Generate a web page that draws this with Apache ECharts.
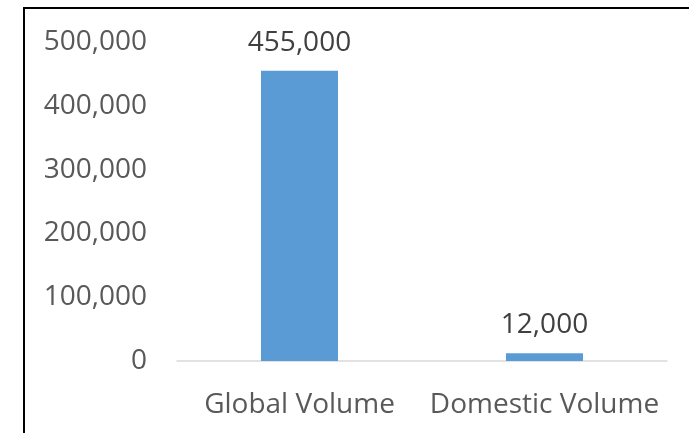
<!DOCTYPE html>
<html>
<head>
<meta charset="utf-8">
<script src="https://cdn.jsdelivr.net/npm/echarts@6/dist/echarts.min.js"></script>
<style>
html,body{margin:0;padding:0;background:#fff;}
#c{width:689px;height:433px;}
</style>
</head>
<body>
<div id="c"></div>
<script>
const categories = ['Global Volume', 'Domestic Volume'];
const volumes = [455000, 12000];
const yTicks = { min: 0, max: 500000, interval: 100000 };

const chart = echarts.init(document.getElementById('c'), null, { renderer: 'canvas' });
const fmt = v => v.toLocaleString('en-US');
chart.setOption({
  animation: false,
  backgroundColor: '#ffffff',
  textStyle: { fontFamily: 'Open Sans' },
  grid: { left: 177, right: 22, top: 42, bottom: 72, containLabel: false },
  graphic: [{
    type: 'rect',
    shape: { x: 24, y: 8, width: 720, height: 460 },
    style: { fill: 'none', stroke: '#000', lineWidth: 2 },
    silent: true
  }],
  xAxis: {
    type: 'category',
    data: categories,
    axisLine: { lineStyle: { color: '#D9D9D9', width: 1.5 } },
    axisTick: { show: false },
    axisLabel: { interval: 0, hideOverlap: false, color: '#595959', fontSize: 28, margin: 30, fontFamily: 'Open Sans' }
  },
  yAxis: {
    type: 'value',
    min: yTicks.min, max: yTicks.max, interval: yTicks.interval,
    splitLine: { show: false },
    axisLine: { show: false },
    axisTick: { show: false },
    axisLabel: { color: '#595959', fontSize: 28, margin: 30, formatter: fmt, fontFamily: 'Open Sans' }
  },
  series: [{
    type: 'bar',
    data: volumes,
    barWidth: 77,
    itemStyle: { color: '#5B9BD5' },
    label: {
      show: true, position: 'top', distance: 14,
      color: '#404040', fontSize: 28, fontFamily: 'Open Sans',
      formatter: p => fmt(p.value)
    }
  }]
});
</script>
</body>
</html>
